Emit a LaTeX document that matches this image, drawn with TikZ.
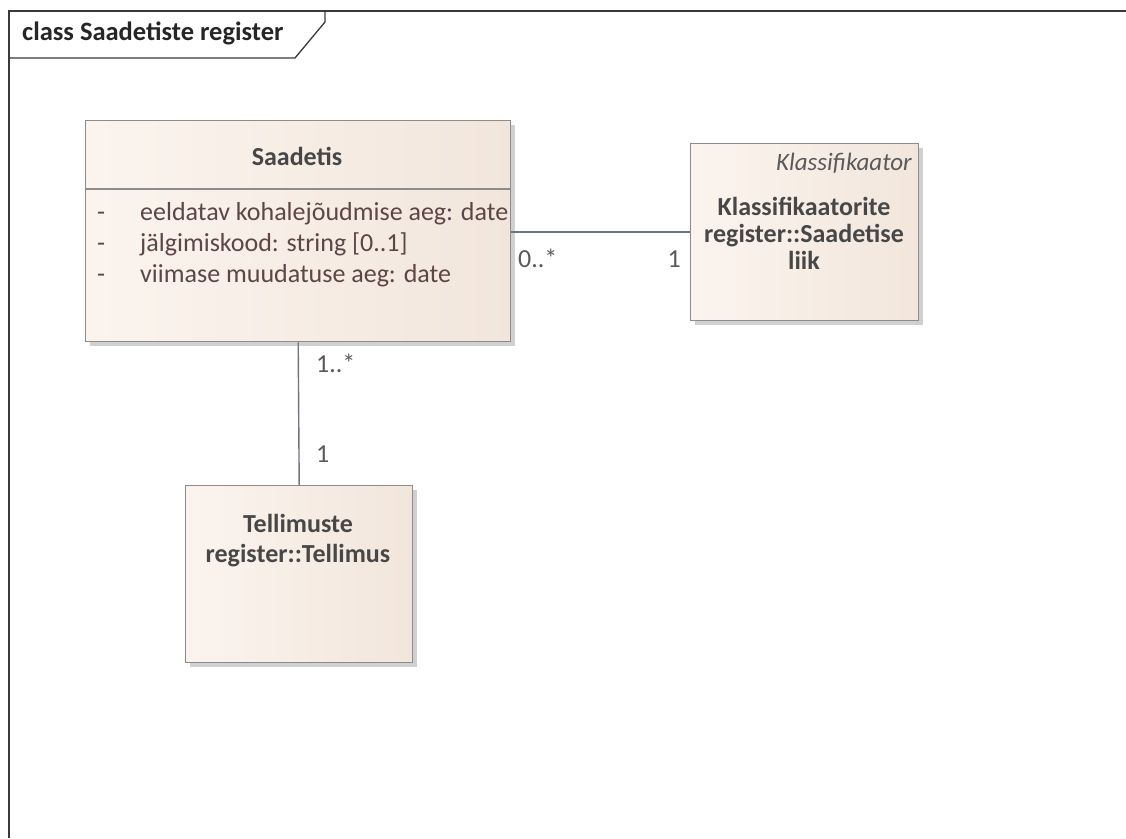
\documentclass[tikz,border=0pt]{standalone}
\usepackage{fontspec}
\setmainfont{Carlito}
\usetikzlibrary{shadows}

\definecolor{boxline}{HTML}{8C8C8C}
\definecolor{fillL}{HTML}{FBF4EE}
\definecolor{fillR}{HTML}{F2E6DC}
\definecolor{nametxt}{HTML}{474747}
\definecolor{attrtxt}{HTML}{5C4646}
\definecolor{labeltxt}{HTML}{5A5A5A}
\definecolor{frameline}{HTML}{3A3A3A}
\definecolor{assocline}{HTML}{6E7480}

\begin{document}
\begin{tikzpicture}[x=1pt,y=-1pt,
  every node/.style={font=\fontsize{26}{28}\selectfont, inner sep=0pt},
  classbox/.style={draw=boxline, line width=1.4pt, left color=fillL, right color=fillR,
    anchor=north west, inner sep=0pt,
    drop shadow={shadow xshift=4pt, shadow yshift=-4pt, opacity=0.3, fill=black!60}},
  classname/.style={font=\fontsize{26}{28}\selectfont\bfseries, text=nametxt, align=center},
  attr/.style={anchor=base west, text=attrtxt},
  mult/.style={anchor=base, text=labeltxt},
  assoc/.style={draw=assocline, line width=1.4pt}
]
\useasboundingbox (0,0) rectangle (1126,838);
\fill[white] (0,0) rectangle (1126,838);

% diagram frame and its name tab
\draw[frameline, line width=1.8pt] (9,838) -- (9,11) -- (1126,11);
\draw[frameline, line width=1.3pt] (9,58) -- (295,58) -- (325,22) -- (325,11);
\node[anchor=base west, font=\fontsize{26.5}{28}\selectfont\bfseries, text=black!85] (title) at (22,40) {class Saadetiste register};

% class Saadetis
\node[classbox, minimum width=425pt, minimum height=221pt] (sd) at (85,120) {};
\draw[boxline, line width=1.2pt] (85,189) -- (510,189);
\node[classname, anchor=base] (sdname) at (297,165) {Saadetis};
\node[attr] (d1) at (97,220) {-};
\node[attr] (d2) at (97,251) {-};
\node[attr] (d3) at (97,282) {-};
\node[attr] (a1) at (140,220) {eeldatav kohalejõudmise aeg: date};
\node[attr] (a2) at (140,251) {jälgimiskood: string [0..1]};
\node[attr] (a3) at (140,282) {viimase muudatuse aeg: date};

% class Klassifikaatorite register::Saadetise liik (base = last line)
\node[classbox, minimum width=228pt, minimum height=177pt] (kl) at (690,143) {};
\node[anchor=base east, font=\fontsize{25}{28}\selectfont\itshape, text=labeltxt] (klst) at (912,170) {Klassifikaator};
\node[classname, anchor=base, font=\fontsize{26}{27}\selectfont\bfseries] (klname) at (804,269)
  {Klassifikaatorite\\register::Saadetise\\liik};

% class Tellimuste register::Tellimus (base = last line)
\node[classbox, minimum width=227pt, minimum height=177pt] (tl) at (185,485) {};
\node[classname, anchor=base, font=\fontsize{26}{30}\selectfont\bfseries] (tlname) at (298,562)
  {Tellimuste\\register::Tellimus};

% associations
\draw[assoc] (sd.east |- 0,232) -- (kl.west |- 0,232);
\draw[assoc] (sd.south) -- (tl.north);

% multiplicities
\node[mult, anchor=base west] (m1) at (518,267) {0..*};
\node[mult, anchor=base east] (m2) at (681,267) {1};
\node[mult, anchor=base west] (m3) at (316,372) {1..*};
\node[mult, anchor=base west] (m4) at (316,462) {1};
\end{tikzpicture}
\end{document}
